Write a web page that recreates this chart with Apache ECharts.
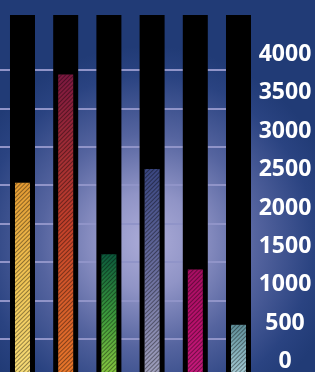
<!DOCTYPE html>
<html>
<head>
<meta charset="utf-8">
<script src="https://cdn.jsdelivr.net/npm/echarts@6/dist/echarts.min.js"></script>
<style>
    html, body { margin: 0; padding: 0; overflow: hidden; }
    /* the plot's zero line sits a few pixels below the visible window */
    #chart { width: 315px; height: 377px; }
</style>
</head>
<body>
<div id="chart"></div>
<script>
    // bar slots (no category names in the picture)
    var slots = [0, 1, 2, 3, 4, 5];
    // coloured bar values
    var values = [2530, 3940, 1600, 2710, 1400, 680];
    // height of the black tracks behind each bar
    var trackValue = 4716;
    // value axis ticks
    var axisMin = 0;
    var axisMax = 4000;
    var axisStep = 500;

    // gradient stops per bar, top -> bottom
    var barColors = [
        ['#e39a32', '#f0c454', '#f6dc78'],
        ['#7c1840', '#c2402a', '#e8782a'],
        ['#0c5a3c', '#3c9a3c', '#8ac840'],
        ['#3a4680', '#6a6e9e', '#a0a0bc'],
        ['#a60e62', '#b8106c', '#c41a7c'],
        ['#5e8e98', '#84b0ba', '#a8ccd6']
    ];

    var chart = echarts.init(document.getElementById('chart'));

    var stripes = {
        symbol: 'rect',
        symbolSize: 1,
        dashArrayX: [1, 0],
        dashArrayY: [1, 2],
        rotation: -Math.PI / 4,
        color: 'rgba(0,0,0,0.4)'
    };

    var xScale = { type: 'value', min: -0.5208, max: 5.2894, show: false };

    chart.setOption({
        backgroundColor: new echarts.graphic.RadialGradient(0.47, 0.64, 0.62, [
            { offset: 0, color: '#acacd8' },
            { offset: 0.25, color: '#9094c6' },
            { offset: 0.55, color: '#55649f' },
            { offset: 0.85, color: '#2a4381' },
            { offset: 1, color: '#213b76' }
        ]),
        animation: false,
        grid: [
            { left: 0, right: 64, top: 15, bottom: 0 },
            { left: 0, right: 64, top: 70, bottom: 0 }
        ],
        xAxis: [
            Object.assign({ gridIndex: 0 }, xScale),
            Object.assign({ gridIndex: 1 }, xScale)
        ],
        yAxis: [
            { gridIndex: 0, type: 'value', min: 0, max: trackValue, show: false },
            {
                gridIndex: 1,
                type: 'value',
                position: 'right',
                min: axisMin,
                max: axisMax,
                interval: axisStep,
                axisLine: { show: false },
                axisTick: { show: false },
                splitLine: { show: true, lineStyle: { color: '#9094c8', width: 2 } },
                axisLabel: {
                    color: '#ffffff',
                    fontFamily: 'Open Sans',
                    fontWeight: 'bold',
                    fontSize: 23,
                    align: 'center',
                    margin: 34,
                    verticalAlign: 'bottom',
                    padding: [0, 0, 4, 0],
                    formatter: function (v) { return String(v); }
                }
            }
        ],
        series: [
            {
                type: 'bar',
                xAxisIndex: 0,
                yAxisIndex: 0,
                barWidth: 25,
                z: 2,
                itemStyle: { color: '#000000' },
                data: slots.map(function (i) { return [i, trackValue]; })
            },
            {
                type: 'bar',
                xAxisIndex: 1,
                yAxisIndex: 1,
                barWidth: 15,
                z: 3,
                data: slots.map(function (i) {
                    var c = barColors[i];
                    return {
                        value: [i, values[i]],
                        itemStyle: {
                            color: new echarts.graphic.LinearGradient(0, 0, 0, 1, [
                                { offset: 0, color: c[0] },
                                { offset: 0.5, color: c[1] },
                                { offset: 1, color: c[2] }
                            ]),
                            decal: stripes
                        }
                    };
                })
            }
        ]
    });
</script>
</body>
</html>
